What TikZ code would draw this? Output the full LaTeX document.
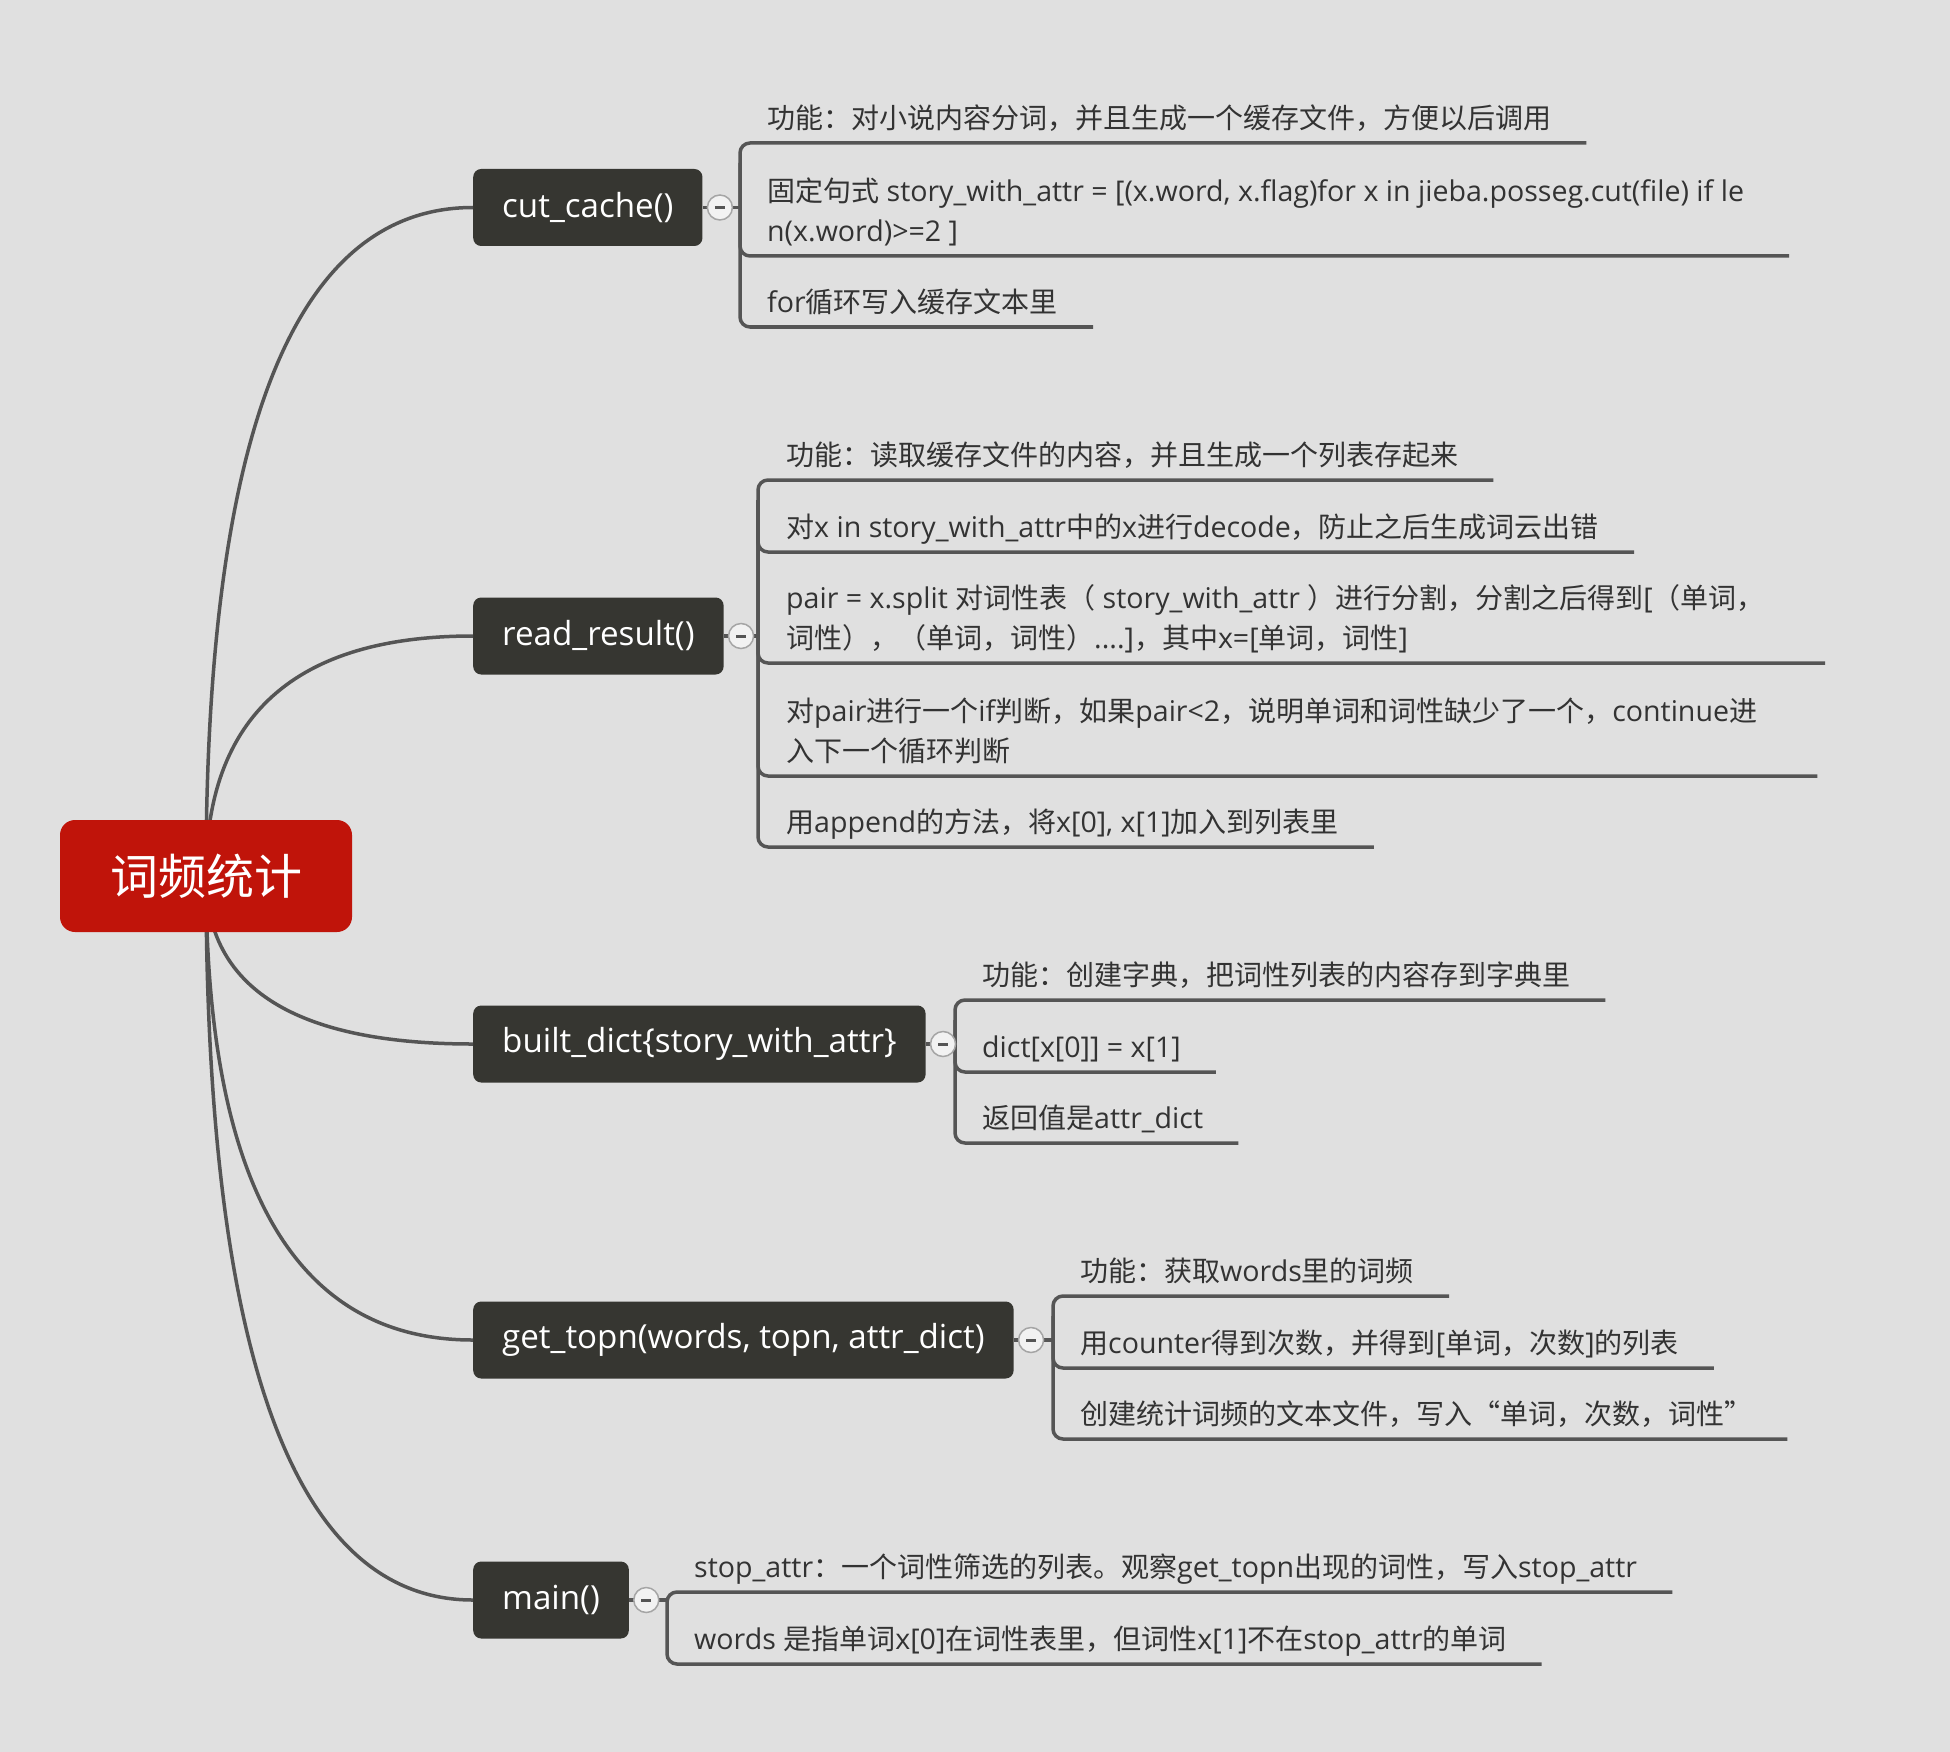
\documentclass[tikz,border=0pt]{standalone}
\usepackage{fontspec}
\setmainfont{Open Sans}[Scale=1.02]
\newfontfamily\cjkfont{Noto Sans CJK SC}
% switch to the CJK font for Chinese runs
\XeTeXinterchartokenstate=1
\newXeTeXintercharclass\cjkclass
\newcount\cjkcode
\newcommand\setcjkrange[2]{\cjkcode=#1\relax
  \loop \XeTeXcharclass\cjkcode=\cjkclass
  \ifnum\cjkcode<#2\relax \advance\cjkcode by 1 \repeat}
\setcjkrange{"3000}{"303F}
\setcjkrange{"4E00}{"9FFF}
\setcjkrange{"FF00}{"FFEF}
\setcjkrange{"201C}{"201D}
\XeTeXinterchartoks 0 \cjkclass = {\begingroup\cjkfont}
\XeTeXinterchartoks 4095 \cjkclass = {\begingroup\cjkfont}
\XeTeXinterchartoks \cjkclass 0 = {\endgroup}
\XeTeXinterchartoks \cjkclass 4095 = {\endgroup}
\usetikzlibrary{positioning,calc}
\definecolor{canvas}{HTML}{E0E0E0}
\definecolor{rootred}{HTML}{C0140A}
\definecolor{funcgray}{HTML}{363631}
\definecolor{linegray}{HTML}{555555}
\definecolor{leaftext}{HTML}{333333}
\definecolor{foldfill}{HTML}{F2F2F2}
\definecolor{foldrim}{HTML}{A5A5A5}
\tikzset{
  rootbox/.style={fill=rootred, text=white, rounded corners=15pt,
    minimum width=292pt, minimum height=112pt, font=\fontsize{48}{56}\selectfont},
  funcbox/.style={fill=funcgray, text=white, rounded corners=8pt, anchor=west,
    minimum height=77pt, inner xsep=29pt, font=\fontsize{32.5}{40}\selectfont},
  leaf/.style={anchor=south west, inner sep=0pt, text depth=14pt, align=left,
    text=leaftext, font=\fontsize{28}{40}\selectfont},
  rootlink/.style={draw=linegray, line width=3.5pt},
  leafline/.style={draw=linegray, line width=3.5pt, rounded corners=10pt},
  fold/.style={circle, draw=foldrim, fill=foldfill, line width=1.5pt,
    minimum size=25pt, inner sep=0pt},
  foldmark/.style={draw=linegray, line width=3pt},
}
\begin{document}
\begin{tikzpicture}[x=1pt,y=-1pt]
  \fill[canvas] (0,0) rectangle (1950,1752);
  \coordinate (hub) at (206,876);

  % functions
  \node[funcbox] (cut) at (473,207.5) {cut\_cache()};
  \node[funcbox] (read) at (473,636) {read\_result()};
  \node[funcbox] (built) at (473,1044) {built\_dict\{story\_with\_attr\}};
  \node[funcbox] (topn) at (473,1340) {get\_topn(words, topn, attr\_dict)};
  \node[funcbox] (main) at (473,1600) {main()};

  \foreach \f in {cut,read,built,topn,main}
    \draw[rootlink] (hub) .. controls ($(hub)!2/3!(hub |- \f.west)$)
      and ($(\f.west)!2/3!(hub |- \f.west)$) .. (\f.west);
  \node[rootbox] (root) at (hub) {词频统计};

  % cut_cache()
  \node[leaf] (c1) at (767,143) {功能：对小说内容分词，并且生成一个缓存文件，方便以后调用};
  \node[leaf] (c2) at (767,256) {固定句式 story\_with\_attr = [(x.word, x.flag)for x in jieba.posseg.cut(file) if le\\n(x.word)>=2 ]};
  \node[leaf] (c3) at (767,327) {for循环写入缓存文本里};
  \coordinate (cutbar) at (740,0);
  \draw[leafline] (cut) -- (cutbar |- cut.east);
  \draw[leafline] ([xshift=35pt]c1.south east) -- (cutbar |- c1.south)
    -- (cutbar |- c3.south) -- ([xshift=35pt]c3.south east);
  \draw[leafline] ($(cutbar |- c1.south)+(0,20)$) -- (cutbar |- c2.south) -- ([xshift=45pt]c2.south east);

  % read_result()
  \node[leaf] (r1) at (786,480) {功能：读取缓存文件的内容，并且生成一个列表存起来};
  \node[leaf] (r2) at (786,552) {对x in story\_with\_attr中的x进行decode，防止之后生成词云出错};
  \node[leaf] (r3) at (786,663) {pair = x.split 对词性表（ story\_with\_attr ）进行分割，分割之后得到[（单词，\\词性），（单词，词性）....]，其中x=[单词，词性]};
  \node[leaf] (r4) at (786,776) {对pair进行一个if判断，如果pair<2，说明单词和词性缺少了一个，continue进\\入下一个循环判断};
  \node[leaf] (r5) at (786,847) {用append的方法，将x[0], x[1]加入到列表里};
  \coordinate (readbar) at (758,0);
  \draw[leafline] (read) -- (readbar |- read.east);
  \draw[leafline] ([xshift=35pt]r1.south east) -- (readbar |- r1.south)
    -- (readbar |- r5.south) -- ([xshift=35pt]r5.south east);
  \draw[leafline] ($(readbar |- r1.south)+(0,20)$) -- (readbar |- r2.south) -- ([xshift=35pt]r2.south east);
  \foreach \l in {r3,r4}
    \draw[leafline] ($(readbar |- r1.south)+(0,20)$) -- (readbar |- \l.south) -- ([xshift=60pt]\l.south east);

  % built_dict
  \node[leaf] (b1) at (982,1000) {功能：创建字典，把词性列表的内容存到字典里};
  \node[leaf] (b2) at (982,1072) {dict[x[0]] = x[1]};
  \node[leaf] (b3) at (982,1143) {返回值是attr\_dict};
  \coordinate (builtbar) at (955,0);
  \draw[leafline] (built) -- (builtbar |- built.east);
  \draw[leafline] ([xshift=35pt]b1.south east) -- (builtbar |- b1.south)
    -- (builtbar |- b3.south) -- ([xshift=35pt]b3.south east);
  \draw[leafline] ($(builtbar |- b1.south)+(0,20)$) -- (builtbar |- b2.south) -- ([xshift=35pt]b2.south east);

  % get_topn
  \node[leaf] (t1) at (1080,1296) {功能：获取words里的词频};
  \node[leaf] (t2) at (1080,1368) {用counter得到次数，并得到[单词，次数]的列表};
  \node[leaf] (t3) at (1080,1439) {创建统计词频的文本文件，写入“单词，次数，词性”};
  \coordinate (topnbar) at (1053,0);
  \draw[leafline] (topn) -- (topnbar |- topn.east);
  \draw[leafline] ([xshift=35pt]t1.south east) -- (topnbar |- t1.south)
    -- (topnbar |- t3.south) -- ([xshift=35pt]t3.south east);
  \draw[leafline] ($(topnbar |- t1.south)+(0,20)$) -- (topnbar |- t2.south) -- ([xshift=35pt]t2.south east);

  % main
  \node[leaf] (m1) at (694,1592) {stop\_attr：一个词性筛选的列表。观察get\_topn出现的词性，写入stop\_attr};
  \node[leaf] (m2) at (694,1664) {words 是指单词x[0]在词性表里，但词性x[1]不在stop\_attr的单词};
  \coordinate (mainbar) at (667,0);
  \draw[leafline] (main) -- (mainbar |- main.east);
  \draw[leafline] ([xshift=35pt]m1.south east) -- (mainbar |- m1.south)
    -- (mainbar |- m2.south) -- ([xshift=35pt]m2.south east);

  % collapse buttons
  \foreach \f in {cut,read,built,topn,main} {
    \node[fold, right=4pt of \f] (\f-fold) {};
    \draw[foldmark] ([xshift=-5pt]\f-fold.center) -- ([xshift=5pt]\f-fold.center);
  }
\end{tikzpicture}
\end{document}
